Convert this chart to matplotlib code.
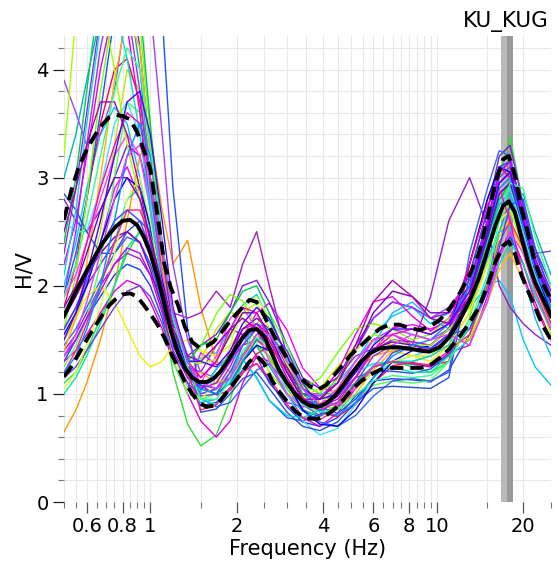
import matplotlib
matplotlib.use("Agg")
import matplotlib.pyplot as plt
import numpy as np
from matplotlib.ticker import FixedLocator, FixedFormatter, NullFormatter

# frequency nodes (Hz) of the single-window curves, split in three bands
freq_lf = [0.5, 0.55, 0.6, 0.67, 0.75, 0.83, 0.92, 1.0, 1.1, 1.2, 1.35]
freq_mf = [1.5, 1.7, 1.9, 2.1, 2.35, 2.6, 3.0, 3.4, 3.9, 4.5, 5.2, 6.0, 7.0, 8.2, 9.5, 11]
freq_hf = [13, 15, 16.5, 18, 20, 22, 25]

# average curve and the two std curves, read on a finer set of frequencies
freq_avg = [0.5, 0.53, 0.56, 0.6, 0.64, 0.68, 0.72, 0.76, 0.8, 0.85, 0.9, 0.95, 1.0, 1.06,
            1.12, 1.18, 1.25, 1.32, 1.4, 1.48, 1.57, 1.66, 1.76, 1.87, 1.98, 2.1, 2.22, 2.35,
            2.5, 2.65, 2.8, 3.0, 3.2, 3.4, 3.6, 3.85, 4.1, 4.4, 4.7, 5.0, 5.4, 5.8, 6.3, 6.8,
            7.4, 8.0, 8.7, 9.4, 10.2, 11.0, 12.0, 13.0, 14.0, 15.0, 16.0, 17.0, 17.8, 18.7,
            19.7, 20.8, 22.0, 23.4, 25.0]
hv_mean = [1.72, 1.86, 1.99, 2.14, 2.27, 2.39, 2.48, 2.55, 2.60, 2.61, 2.56, 2.45, 2.30, 2.08,
           1.83, 1.58, 1.38, 1.24, 1.15, 1.11, 1.11, 1.14, 1.21, 1.31, 1.42, 1.52, 1.59, 1.60,
           1.53, 1.38, 1.23, 1.10, 1.00, 0.93, 0.89, 0.88, 0.91, 0.98, 1.08, 1.18, 1.29, 1.37,
           1.42, 1.43, 1.43, 1.42, 1.40, 1.39, 1.43, 1.52, 1.68, 1.86, 2.07, 2.32, 2.56, 2.74,
           2.78, 2.68, 2.45, 2.22, 2.03, 1.88, 1.72]
hv_upper = [2.61, 2.88, 3.08, 3.26, 3.39, 3.49, 3.56, 3.58, 3.57, 3.54, 3.42, 3.25, 3.08, 2.65,
            2.20, 1.98, 1.82, 1.62, 1.48, 1.43, 1.44, 1.48, 1.56, 1.65, 1.73, 1.80, 1.87, 1.85,
            1.72, 1.58, 1.46, 1.33, 1.21, 1.13, 1.07, 1.04, 1.08, 1.18, 1.27, 1.36, 1.44, 1.52,
            1.60, 1.64, 1.64, 1.61, 1.59, 1.62, 1.68, 1.78, 1.93, 2.10, 2.30, 2.62, 2.95, 3.17,
            3.20, 3.02, 2.72, 2.48, 2.21, 2.02, 1.87]
hv_lower = [1.16, 1.25, 1.36, 1.50, 1.62, 1.73, 1.82, 1.88, 1.92, 1.93, 1.90, 1.82, 1.74, 1.64,
            1.52, 1.38, 1.25, 1.11, 1.00, 0.92, 0.88, 0.89, 0.94, 1.03, 1.12, 1.21, 1.30, 1.35,
            1.28, 1.13, 1.03, 0.93, 0.84, 0.79, 0.77, 0.77, 0.80, 0.86, 0.94, 1.03, 1.11, 1.17,
            1.22, 1.24, 1.24, 1.24, 1.24, 1.26, 1.33, 1.41, 1.53, 1.66, 1.80, 2.00, 2.22, 2.37,
            2.41, 2.30, 2.10, 1.95, 1.80, 1.63, 1.50]

# peak frequency band (Hz): f0/std, f0, f0*std
f0_band = [16.7, 17.6, 18.4]

window_colors = ["#8a2be2", "#ff00ff", "#1e3cff", "#00c8ff", "#32dc32", "#b4f000", "#ff9600",
                 "#ff0050", "#7b1fd0", "#00b4b4", "#2050ff", "#9020d0", "#a020c0", "#e000e0",
                 "#50ff50", "#40e0ff", "#9b30ff", "#3264ff", "#f0f000", "#e600e6", "#00e6a0",
                 "#78ff00", "#a040ff", "#2850dc", "#ffb400", "#8000c0", "#1eb4ff", "#ff40ff",
                 "#00c850", "#7040e0", "#0000e0", "#d2ff3c", "#00dcdc", "#c000ff", "#a0ff00",
                 "#ff2080", "#6a0dad", "#4040ff", "#ff00c0", "#0090ff", "#b000b0", "#30ff90",
                 "#5000ff", "#e040ff"]

window_lf = [
    [2.3, 2.9, 3.6, 4.5, 5.2, 5.0, 4.2, 3.2, 2.3, 1.6, 1.25],
    [1.5, 1.7, 2.0, 2.4, 2.9, 3.1, 2.8, 2.3, 1.8, 1.4, 1.05],
    [1.3, 1.5, 1.7, 1.9, 2.1, 2.2, 2.15, 2.0, 1.7, 1.35, 1.1],
    [2.0, 2.4, 2.9, 3.4, 3.65, 3.5, 3.0, 2.5, 2.05, 1.6, 1.3],
    [1.1, 1.2, 1.4, 1.7, 2.0, 2.3, 2.5, 2.3, 1.8, 1.2, 0.72],
    [1.5, 1.7, 2.0, 2.5, 3.3, 4.0, 3.8, 3.0, 2.1, 1.45, 1.2],
    [0.65, 0.85, 1.1, 1.5, 2.0, 2.6, 3.2, 3.4, 2.7, 2.2, 2.42],
    [1.8, 2.2, 2.8, 3.5, 4.0, 4.1, 3.7, 3.0, 2.2, 1.6, 1.3],
    [2.8, 2.6, 2.5, 2.7, 3.0, 3.3, 3.2, 2.8, 2.2, 1.65, 1.35],
    [3.0, 3.4, 3.9, 4.5, 5.0, 4.8, 4.0, 3.0, 2.1, 1.5, 1.2],
    [1.9, 2.3, 2.8, 3.6, 4.5, 5.5, 6.0, 5.8, 4.5, 2.9, 1.6],
    [1.6, 1.8, 2.0, 2.2, 2.4, 2.5, 2.4, 2.2, 1.9, 1.55, 1.25],
    [1.4, 1.55, 1.75, 2.0, 2.2, 2.3, 2.25, 2.1, 1.9, 1.75, 1.7],
    [1.3, 1.4, 1.55, 1.75, 1.95, 2.05, 2.0, 1.85, 1.6, 1.3, 1.0],
    [1.25, 1.45, 1.7, 2.2, 3.0, 3.7, 3.6, 2.8, 1.9, 1.3, 1.0],
    [2.6, 2.5, 2.5, 2.9, 3.5, 3.7, 3.4, 2.8, 2.1, 1.55, 1.25],
    [1.9, 2.5, 3.3, 4.2, 4.8, 4.6, 3.8, 2.9, 2.1, 1.55, 1.2],
    [1.45, 1.6, 1.8, 2.05, 2.3, 2.45, 2.4, 2.2, 1.85, 1.45, 1.15],
    [1.5, 1.7, 1.9, 2.0, 1.85, 1.6, 1.35, 1.25, 1.3, 1.45, 1.5],
    [2.2, 2.6, 3.2, 4.0, 4.6, 4.4, 3.6, 2.7, 2.0, 1.5, 1.2],
    [1.0, 1.15, 1.35, 1.65, 2.0, 2.35, 2.5, 2.35, 1.95, 1.5, 1.15],
    [1.6, 2.1, 2.8, 3.8, 4.6, 4.9, 4.4, 3.4, 2.4, 1.7, 1.3],
    [3.9, 3.6, 3.3, 3.4, 3.8, 4.6, 5.0, 4.6, 3.4, 2.2, 1.5],
    [2.85, 2.7, 2.5, 2.3, 2.3, 2.5, 2.6, 2.5, 2.2, 1.75, 1.35],
    [1.4, 1.7, 2.2, 3.0, 3.9, 4.5, 4.2, 3.2, 2.2, 1.5, 1.15],
    [1.7, 1.9, 2.1, 2.3, 2.45, 2.5, 2.4, 2.15, 1.8, 1.45, 1.2],
    [1.35, 1.5, 1.7, 2.0, 2.4, 2.8, 2.9, 2.6, 2.0, 1.4, 1.05],
    [1.9, 2.1, 2.4, 2.8, 3.2, 3.4, 3.2, 2.7, 2.1, 1.6, 1.25],
    [2.4, 3.0, 3.8, 4.8, 5.5, 5.4, 4.6, 3.5, 2.4, 1.7, 1.3],
    [1.15, 1.25, 1.4, 1.6, 1.8, 1.95, 2.0, 1.9, 1.65, 1.35, 1.1],
    [1.55, 1.75, 2.0, 2.4, 2.8, 3.0, 2.9, 2.55, 2.05, 1.6, 1.25],
    [1.05, 1.2, 1.45, 1.8, 2.3, 2.8, 3.0, 2.6, 1.95, 1.35, 1.05],
    [2.1, 2.7, 3.5, 4.4, 4.6, 4.1, 3.4, 2.7, 2.0, 1.5, 1.2],
    [1.35, 1.5, 1.7, 1.95, 2.2, 2.35, 2.3, 2.1, 1.75, 1.4, 1.15],
    [3.2, 4.5, 5.0, 4.7, 4.0, 3.3, 2.8, 2.4, 2.0, 1.6, 1.3],
    [1.2, 1.4, 1.65, 2.0, 2.4, 2.7, 2.7, 2.45, 2.0, 1.55, 1.2],
    [1.8, 2.0, 2.3, 2.7, 3.0, 3.0, 2.8, 2.45, 2.0, 1.6, 1.3],
    [1.6, 1.8, 2.05, 2.35, 2.6, 2.7, 2.6, 2.35, 1.95, 1.55, 1.22],
    [1.7, 2.0, 2.4, 2.9, 3.3, 3.6, 3.5, 3.0, 2.3, 1.7, 1.3],
    [1.2, 1.35, 1.6, 2.0, 2.6, 3.2, 3.5, 3.2, 2.4, 1.7, 1.25],
    [2.5, 2.9, 3.3, 3.7, 3.7, 3.4, 2.9, 2.4, 1.95, 1.6, 1.35],
    [1.9, 2.2, 2.6, 3.2, 3.8, 4.2, 4.0, 3.3, 2.4, 1.7, 1.25],
    [1.5, 1.75, 2.1, 2.6, 3.2, 3.7, 3.8, 3.4, 2.6, 1.8, 1.3],
    [1.35, 1.55, 1.85, 2.3, 2.8, 3.2, 3.3, 3.0, 2.35, 1.75, 1.3],
]

window_mf = [
    [1.2, 1.45, 1.6, 1.55, 1.35, 1.1, 0.92, 0.88, 0.95, 1.15, 1.35, 1.42, 1.42, 1.4, 1.45, 1.6],
    [1.38, 1.27, 1.32, 1.52, 1.75, 1.84, 1.59, 1.24, 1.06, 1.01, 1.15, 1.4, 1.61, 1.64, 1.6, 1.67],
    [0.89, 0.92, 1.06, 1.22, 1.28, 1.12, 0.88, 0.74, 0.7, 0.78, 0.98, 1.12, 1.14, 1.13, 1.11, 1.22],
    [1.33, 1.38, 1.6, 1.82, 1.92, 1.68, 1.32, 1.12, 1.06, 1.1, 1.3, 1.55, 1.72, 1.8, 1.65, 1.75],
    [0.52, 0.62, 0.95, 1.3, 1.45, 1.35, 1.05, 0.85, 0.8, 0.9, 1.1, 1.25, 1.3, 1.25, 1.2, 1.3],
    [1.32, 1.6, 1.76, 1.7, 1.48, 1.2, 1.0, 0.97, 1.05, 1.25, 1.45, 1.5, 1.45, 1.4, 1.45, 1.6],
    [1.8, 1.3, 1.2, 1.35, 1.5, 1.45, 1.2, 0.95, 0.9, 1.0, 1.2, 1.35, 1.4, 1.35, 1.35, 1.45],
    [1.08, 0.99, 1.03, 1.19, 1.37, 1.44, 1.24, 0.97, 0.83, 0.79, 0.9, 1.1, 1.26, 1.29, 1.26, 1.3],
    [1.45, 1.55, 1.75, 2.0, 2.05, 1.85, 1.45, 1.15, 1.05, 1.15, 1.45, 1.7, 1.85, 1.8, 1.7, 1.75],
    [1.0, 1.04, 1.2, 1.37, 1.44, 1.26, 0.99, 0.84, 0.79, 0.88, 1.1, 1.26, 1.29, 1.27, 1.25, 1.37],
    [1.02, 1.23, 1.36, 1.32, 1.15, 0.94, 0.78, 0.75, 0.81, 0.98, 1.15, 1.21, 1.21, 1.19, 1.23, 1.36],
    [1.1, 1.15, 1.3, 1.45, 1.5, 1.4, 1.1, 0.92, 0.9, 1.05, 1.3, 1.5, 1.55, 1.45, 1.9, 2.6],
    [1.75, 1.95, 1.8, 2.2, 2.5, 2.0, 1.35, 1.05, 0.95, 1.0, 1.2, 1.4, 1.5, 1.45, 1.4, 1.5],
    [0.75, 0.6, 0.75, 1.1, 1.35, 1.3, 1.0, 0.78, 0.7, 0.82, 1.05, 1.25, 1.3, 1.28, 1.25, 1.38],
    [0.95, 1.0, 1.15, 1.35, 1.65, 1.75, 1.45, 1.1, 0.9, 0.85, 0.95, 1.08, 1.12, 1.1, 1.12, 1.3],
    [1.1, 1.1, 1.3, 1.5, 1.6, 1.45, 1.0, 0.75, 0.62, 0.68, 0.9, 1.15, 1.3, 1.35, 1.4, 1.55],
    [1.0, 1.05, 1.25, 1.5, 1.65, 1.5, 1.2, 1.0, 0.98, 1.1, 1.4, 1.7, 1.85, 1.8, 1.7, 1.8],
    [0.96, 0.88, 0.92, 1.06, 1.22, 1.28, 1.1, 0.86, 0.74, 0.7, 0.8, 0.98, 1.12, 1.14, 1.12, 1.2],
    [1.4, 1.35, 1.45, 1.6, 1.65, 1.5, 1.2, 1.0, 0.95, 1.05, 1.25, 1.4, 1.4, 1.35, 1.3, 1.45],
    [1.05, 1.15, 1.4, 1.6, 1.65, 1.5, 1.2, 1.0, 1.0, 1.2, 1.55, 1.85, 1.9, 1.72, 1.58, 1.7],
    [0.95, 0.9, 1.05, 1.3, 1.5, 1.5, 1.3, 1.1, 1.0, 1.0, 1.1, 1.2, 1.25, 1.2, 1.2, 1.35],
    [1.44, 1.74, 1.92, 1.86, 1.62, 1.32, 1.1, 1.06, 1.14, 1.38, 1.6, 1.65, 1.6, 1.5, 1.55, 1.7],
    [1.2, 1.15, 1.3, 1.5, 1.6, 1.5, 1.2, 0.95, 0.9, 1.0, 1.25, 1.5, 1.6, 1.55, 1.5, 1.6],
    [0.83, 0.86, 1.0, 1.14, 1.2, 1.05, 0.83, 0.7, 0.66, 0.74, 0.92, 1.05, 1.07, 1.06, 1.05, 1.15],
    [1.2, 1.1, 1.15, 1.32, 1.52, 1.6, 1.38, 1.08, 0.92, 0.88, 1.0, 1.22, 1.4, 1.43, 1.4, 1.45],
    [1.1, 1.15, 1.35, 1.6, 1.7, 1.6, 1.25, 1.0, 0.95, 1.1, 1.4, 1.75, 1.95, 1.9, 1.75, 1.75],
    [0.92, 0.95, 1.15, 1.45, 1.65, 1.6, 1.3, 1.05, 0.95, 0.98, 1.15, 1.45, 1.75, 1.85, 1.7, 1.6],
    [1.1, 1.35, 1.7, 1.8, 1.6, 1.3, 1.0, 0.88, 0.9, 1.05, 1.3, 1.5, 1.55, 1.48, 1.45, 1.6],
    [1.45, 1.5, 1.75, 1.95, 2.0, 1.75, 1.3, 1.0, 0.88, 0.92, 1.1, 1.25, 1.3, 1.3, 1.35, 1.5],
    [0.98, 1.0, 1.2, 1.45, 1.6, 1.5, 1.15, 0.9, 0.8, 0.88, 1.1, 1.35, 1.45, 1.42, 1.4, 1.55],
    [1.05, 1.0, 1.1, 1.3, 1.45, 1.4, 1.1, 0.85, 0.72, 0.7, 0.85, 1.1, 1.3, 1.4, 1.45, 1.6],
    [0.95, 1.1, 1.45, 1.8, 1.9, 1.7, 1.3, 1.05, 0.95, 0.95, 1.05, 1.2, 1.3, 1.35, 1.35, 1.5],
    [1.02, 1.23, 1.36, 1.32, 1.15, 0.94, 0.8, 0.78, 0.85, 1.02, 1.2, 1.28, 1.3, 1.3, 1.35, 1.45],
    [1.05, 1.1, 1.3, 1.55, 1.65, 1.55, 1.2, 0.95, 0.88, 0.95, 1.15, 1.4, 1.5, 1.48, 1.45, 1.6],
    [1.28, 1.32, 1.53, 1.75, 1.84, 1.61, 1.27, 1.07, 1.01, 1.13, 1.4, 1.55, 1.5, 1.45, 1.45, 1.6],
    [0.85, 0.9, 1.05, 1.2, 1.28, 1.15, 0.9, 0.78, 0.76, 0.86, 1.08, 1.25, 1.3, 1.28, 1.27, 1.4],
    [1.15, 1.3, 1.55, 1.75, 1.75, 1.55, 1.2, 0.95, 0.88, 0.98, 1.2, 1.42, 1.48, 1.45, 1.42, 1.55],
    [1.08, 1.05, 1.15, 1.35, 1.55, 1.6, 1.4, 1.1, 0.88, 0.82, 0.95, 1.15, 1.38, 1.45, 1.42, 1.55],
    [1.15, 1.3, 1.6, 1.8, 1.75, 1.5, 1.15, 0.92, 0.85, 0.92, 1.15, 1.4, 1.55, 1.6, 1.55, 1.65],
    [1.05, 1.0, 1.1, 1.3, 1.5, 1.55, 1.35, 1.05, 0.85, 0.8, 0.92, 1.15, 1.35, 1.45, 1.5, 1.65],
    [1.3, 1.45, 1.6, 1.7, 1.6, 1.4, 1.1, 0.95, 0.95, 1.1, 1.45, 1.85, 2.05, 1.9, 1.7, 1.65],
    [0.95, 0.95, 1.12, 1.4, 1.52, 1.44, 1.12, 0.9, 0.83, 0.86, 0.99, 1.12, 1.17, 1.15, 1.17, 1.3],
    [1.3, 1.25, 1.4, 1.65, 1.8, 1.7, 1.35, 1.05, 0.95, 1.0, 1.2, 1.45, 1.6, 1.6, 1.55, 1.65],
    [1.1, 1.05, 1.15, 1.35, 1.55, 1.55, 1.3, 1.05, 0.9, 0.9, 1.05, 1.25, 1.45, 1.55, 1.5, 1.55],
]

window_hf = [
    [1.9, 2.45, 2.85, 2.95, 2.5, 2.1, 1.75],
    [2.0, 2.6, 3.05, 3.15, 2.65, 2.25, 1.9],
    [1.55, 1.95, 2.3, 2.45, 2.2, 1.9, 1.6],
    [1.8, 2.0, 2.05, 1.9, 1.5, 1.25, 1.08],
    [1.7, 2.35, 3.0, 3.38, 2.75, 2.2, 1.75],
    [1.5, 2.0, 2.45, 2.6, 2.3, 1.95, 1.55],
    [1.75, 2.2, 2.5, 2.6, 2.3, 2.0, 1.7],
    [2.2, 2.8, 3.1, 3.0, 2.4, 1.95, 1.6],
    [2.1, 2.7, 3.2, 3.3, 2.75, 2.3, 1.95],
    [1.6, 2.05, 2.5, 2.8, 2.85, 2.5, 2.1],
    [1.9, 2.45, 2.8, 2.9, 2.5, 2.1, 1.7],
    [3.0, 2.55, 2.0, 1.8, 1.65, 1.55, 1.45],
    [1.85, 2.4, 2.75, 2.85, 2.45, 2.1, 1.75],
    [1.45, 1.9, 2.3, 2.5, 2.2, 1.85, 1.5],
    [1.7, 2.3, 2.75, 2.95, 2.5, 2.15, 1.8],
    [1.9, 2.4, 2.75, 2.9, 2.5, 2.1, 1.75],
    [2.05, 2.6, 3.0, 3.1, 2.6, 2.2, 1.85],
    [2.3, 2.9, 3.25, 3.2, 2.6, 2.15, 1.8],
    [1.75, 2.2, 2.5, 2.6, 2.3, 1.95, 1.65],
    [2.0, 2.6, 3.05, 3.15, 2.65, 2.25, 1.9],
    [1.5, 1.85, 2.2, 2.4, 2.2, 1.9, 1.6],
    [1.8, 2.3, 2.6, 2.7, 2.35, 2.0, 1.65],
    [1.95, 2.45, 2.75, 2.8, 2.4, 2.05, 1.7],
    [2.1, 2.7, 3.1, 3.15, 2.7, 2.35, 2.0],
    [1.5, 1.85, 2.15, 2.3, 2.05, 1.8, 1.5],
    [2.0, 2.55, 2.95, 3.05, 2.6, 2.25, 1.9],
    [1.8, 2.25, 2.5, 2.55, 2.1, 1.7, 1.35],
    [1.95, 2.5, 2.9, 3.0, 2.6, 2.2, 1.85],
    [1.85, 2.4, 2.8, 2.95, 2.55, 2.2, 1.85],
    [1.9, 2.45, 2.85, 2.95, 2.6, 2.3, 2.32],
    [2.2, 2.8, 3.1, 3.05, 2.55, 2.15, 1.75],
    [1.85, 2.3, 2.6, 2.7, 2.4, 2.05, 1.7],
    [1.9, 2.4, 2.75, 2.85, 2.4, 2.0, 1.65],
    [2.0, 2.6, 3.05, 3.15, 2.7, 2.25, 1.85],
    [1.8, 2.3, 2.65, 2.75, 2.4, 2.05, 1.7],
    [1.55, 2.0, 2.4, 2.6, 2.35, 2.0, 1.65],
    [1.9, 2.45, 2.85, 2.95, 2.55, 2.15, 1.8],
    [1.6, 1.95, 2.35, 2.75, 2.8, 2.35, 1.9],
    [2.2, 2.75, 2.9, 2.6, 2.1, 1.8, 1.5],
    [2.0, 2.5, 2.9, 3.0, 2.55, 2.15, 1.8],
    [1.9, 2.5, 2.95, 3.05, 2.6, 2.2, 1.85],
    [1.65, 2.1, 2.6, 2.95, 2.9, 2.45, 2.0],
    [1.95, 2.5, 2.95, 3.05, 2.6, 2.2, 1.85],
    [1.45, 1.85, 2.25, 2.5, 2.3, 1.95, 1.6],
]

x_labels = [0.6, 0.8, 1, 2, 4, 6, 8, 10, 20]
station = "KU_KUG"

freq = freq_lf + freq_mf + freq_hf

fig = plt.figure(figsize=(5.58, 5.72), dpi=100)
ax = fig.add_axes([64 / 558, 70 / 572, 487 / 558, 466 / 572])
ax.set_xscale("log")

# peak band behind the curves
ax.axvspan(f0_band[0], f0_band[1], color="#b9b9b9", lw=0, zorder=1)
ax.axvspan(f0_band[1], f0_band[2], color="#999999", lw=0, zorder=1)

for c, lf, mf, hf in zip(window_colors, window_lf, window_mf, window_hf):
    ax.plot(freq, lf + mf + hf, color=c, lw=1.0, zorder=2)

ax.plot(freq_avg, hv_mean, color="black", lw=2.8, zorder=4)
ax.plot(freq_avg, hv_upper, color="black", lw=2.8, dashes=(3.4, 1.8), zorder=4)
ax.plot(freq_avg, hv_lower, color="black", lw=2.8, dashes=(3.4, 1.8), zorder=4)

ax.set_xlim(0.5, 25)
ax.set_ylim(0, 4.31)

minor_x = list(np.arange(0.5, 1.0, 0.05)) + list(np.arange(1.0, 10.0, 0.5)) + [10, 15, 20, 25]
ax.xaxis.set_major_locator(FixedLocator(x_labels))
ax.xaxis.set_major_formatter(FixedFormatter([f"{v:g}" for v in x_labels]))
ax.xaxis.set_minor_locator(FixedLocator(minor_x))
ax.xaxis.set_minor_formatter(NullFormatter())
ax.yaxis.set_major_locator(FixedLocator([0, 1, 2, 3, 4]))
ax.yaxis.set_minor_locator(FixedLocator(np.arange(0, 4.31, 0.2)))

ax.grid(which="both", color="#e8e8e8", lw=0.8)
ax.set_axisbelow(True)
for s in ax.spines.values():
    s.set_visible(False)

ax.tick_params(which="major", length=8, width=0.9, color="#555555", labelsize=14, pad=3)
ax.tick_params(which="minor", length=4.5, width=0.8, color="#777777")
ax.tick_params(axis="y", which="major", color="#222222")

ax.set_xlabel("Frequency (Hz)", fontsize=15, labelpad=2)
ax.set_ylabel("H/V", fontsize=15, labelpad=2)
fig.text(549 / 558, 1 - 22 / 572, station, ha="right", va="center", fontsize=15.5)

fig.savefig("out.png", dpi=100)
